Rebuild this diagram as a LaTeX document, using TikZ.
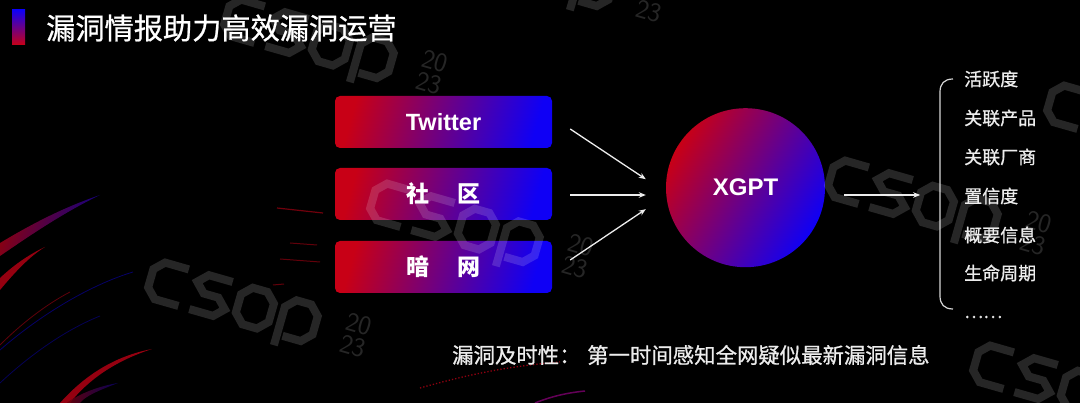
\documentclass[tikz,border=0pt]{standalone}
\usepackage{fontspec}
\newfontfamily\cjk{Noto Sans CJK SC}
\newfontfamily\cjkm{Noto Sans CJK SC}[FakeBold=0.8]
\newfontfamily\lat{Liberation Sans}
\usetikzlibrary{arrows.meta,calc}
\definecolor{bred}{RGB}{200,0,22}
\definecolor{bblue}{RGB}{15,0,245}
\definecolor{txt}{RGB}{236,236,236}
\definecolor{brk}{RGB}{215,215,215}
\tikzset{
  srcbox/.style={rounded corners=5pt, minimum width=217pt, minimum height=52pt, inner sep=0pt,
    left color=bred, right color=bblue, shading angle=75, text=white,
    font=\cjk\bfseries\fontsize{23}{26}\selectfont},
  arr/.style={draw=txt, line width=1.3pt, -{Stealth[length=7pt,width=5.5pt]}},
  item/.style={anchor=west, text=txt, inner sep=0pt, font=\cjkm\fontsize{18}{20}\selectfont},
  streak/.style={fill=bred, opacity=0.75},
  wmk/.pic={
    \draw[white, opacity=0.15, line width=8pt, line join=miter, line cap=butt]
      (0.9,0) -- (0.25,0) -- (0,0.25) -- (0,0.75) -- (0.25,1) -- (0.9,1)
      (2.1,0) -- (1.45,0) -- (1.2,0.25) -- (1.45,0.5) -- (1.85,0.5) -- (2.1,0.75) -- (1.85,1) -- (1.2,1)
      (2.65,0) -- (3.05,0) -- (3.3,0.25) -- (3.3,0.75) -- (3.05,1) -- (2.65,1) -- (2.4,0.75) -- (2.4,0.25) -- cycle
      (3.6,1.3) -- (3.6,0.25) -- (3.85,0) -- (4.25,0) -- (4.5,0.25) -- (4.5,0.75) -- (4.25,1) -- (3.75,1);
    \node[rotate=-16, text=white, opacity=0.15, inner sep=0pt, align=left,
      font=\sffamily\fontsize{27}{23}\selectfont] at (5.6,0.45) {20\\23};
  }
}
\begin{document}
\begin{tikzpicture}[x=1pt,y=-1pt]
\fill[black] (0,0) rectangle (1080,403);
\useasboundingbox (0,0) rectangle (1080,403);

% background swirls
\fill[left color=bred, right color=bblue!80!black, shading angle=70, opacity=0.7]
  (0,256) .. controls (35,232) and (65,212) .. (100,195) .. controls (65,207) and (35,222) .. (0,243) -- cycle;
\fill[streak] (0,290) .. controls (15,272) and (30,256) .. (45,247) .. controls (30,254) and (15,264) .. (0,278) -- cycle;
\fill[streak] (60,403) .. controls (85,375) and (115,356) .. (152,349) .. controls (115,361) and (88,380) .. (70,403) -- cycle;
\draw[bblue!70!black, line width=0.8pt, opacity=0.6] (0,350) .. controls (40,315) and (90,285) .. (133,272);
\draw[bblue!70!black, line width=0.8pt, opacity=0.5] (0,383) .. controls (30,355) and (65,330) .. (100,316);
\draw[bred!80!black, line width=0.8pt, opacity=0.6] (0,345) .. controls (20,325) and (45,305) .. (70,292);
\fill[left color=bred!80!black, right color=bblue!60!black, opacity=0.6]
  (67,403) .. controls (80,393) and (100,386) .. (118,383) .. controls (100,390) and (85,396) .. (80,403) -- cycle;
\draw[bred!70!black, line width=1.2pt, opacity=0.8] (277,208) -- (323,213);
\draw[bred!70!black, line width=1pt, opacity=0.7] (290,243) -- (317,245);
\draw[bred!70!black, line width=1pt, opacity=0.7] (280,259) -- (320,262);
\draw[bred!70!black, line width=1pt, opacity=0.7] (273,285) -- (284,284);
\draw[bred!80!black, line width=1.3pt, dotted, opacity=0.9] (420,388) .. controls (470,374) and (510,366) .. (560,362);
\draw[bred!60!bblue, line width=1.5pt, opacity=0.8] (535,403) .. controls (550,397) and (565,393) .. (585,391);

% title
\node[top color=bblue, bottom color=bred, minimum width=13pt, minimum height=35pt, inner sep=0pt] (bar) at (18.5,27.5) {};
\node[anchor=west, inner sep=0pt, text=white, font=\cjkm\fontsize{29.2}{32}\selectfont] (title) at (46,28) {漏洞情报助力高效漏洞运营};

% sources
\node[srcbox, font=\lat\bfseries\fontsize{23.5}{26}\selectfont] (tw) at (443.5,122) {Twitter};
\node[srcbox] (sq) at (443.5,194) {社\hspace{28.5pt}区};
\node[srcbox] (dk) at (443.5,267) {暗\hspace{28.5pt}网};

% central circle
\node[circle, minimum size=159pt, inner sep=0pt, left color=bred, right color=bblue, shading angle=60,
  text=white, font=\lat\bfseries\fontsize{24}{28}\selectfont] (xg) at (745.5,187.7) {XGPT};

% arrows
\draw[arr] ($(tw.east)+(18,7)$) -- ($(xg.west)+(-20,-8.5)$);
\draw[arr] ($(sq.east)+(18,1)$) -- ($(xg.west)+(-20,7.3)$);
\draw[arr] ($(dk.east)+(18,-7)$) -- ($(xg.west)+(-20,21.5)$);
\draw[arr] ($(xg.east)+(19,7.3)$) -- ($(xg.east)+(95,7.3)$);

% bracket and list
\draw[brk, line width=1.2pt] (953,79) .. controls (944,79) and (940,84) .. (940,92) -- (940,296) .. controls (940,304) and (944,309) .. (953,309);
\node[item] (i1) at (964,79) {活跃度};
\node[item] (i2) at (964,118) {关联产品};
\node[item] (i3) at (964,157) {关联厂商};
\node[item] (i4) at (964,196) {置信度};
\node[item] (i5) at (964,235) {概要信息};
\node[item] (i6) at (964,273) {生命周期};
\node[item] (i7) at (964,317) {……};

% bottom text
\node[anchor=west, inner sep=0pt, text=txt, font=\cjkm\fontsize{21.4}{24}\selectfont] (lbl) at (452,355) {漏洞及时性：};
\node[anchor=west, inner sep=0pt, text=txt, font=\cjkm\fontsize{21.4}{24}\selectfont] (desc) at (587,355) {第一时间感知全网疑似最新漏洞信息};

% watermarks
\pic[rotate=-16, scale=38] at (232,-3) {wmk};
\pic[rotate=-16, scale=38] at (378,181) {wmk};
\pic[rotate=-16, scale=38] at (156,260) {wmk};
\pic[rotate=-16, scale=38] at (836,158) {wmk};
\pic[rotate=-16, scale=38] at (452,-75) {wmk};
\pic[rotate=-16, scale=38] at (1055,83) {wmk};
\pic[rotate=-16, scale=38] at (981,343) {wmk};
\end{tikzpicture}
\end{document}
